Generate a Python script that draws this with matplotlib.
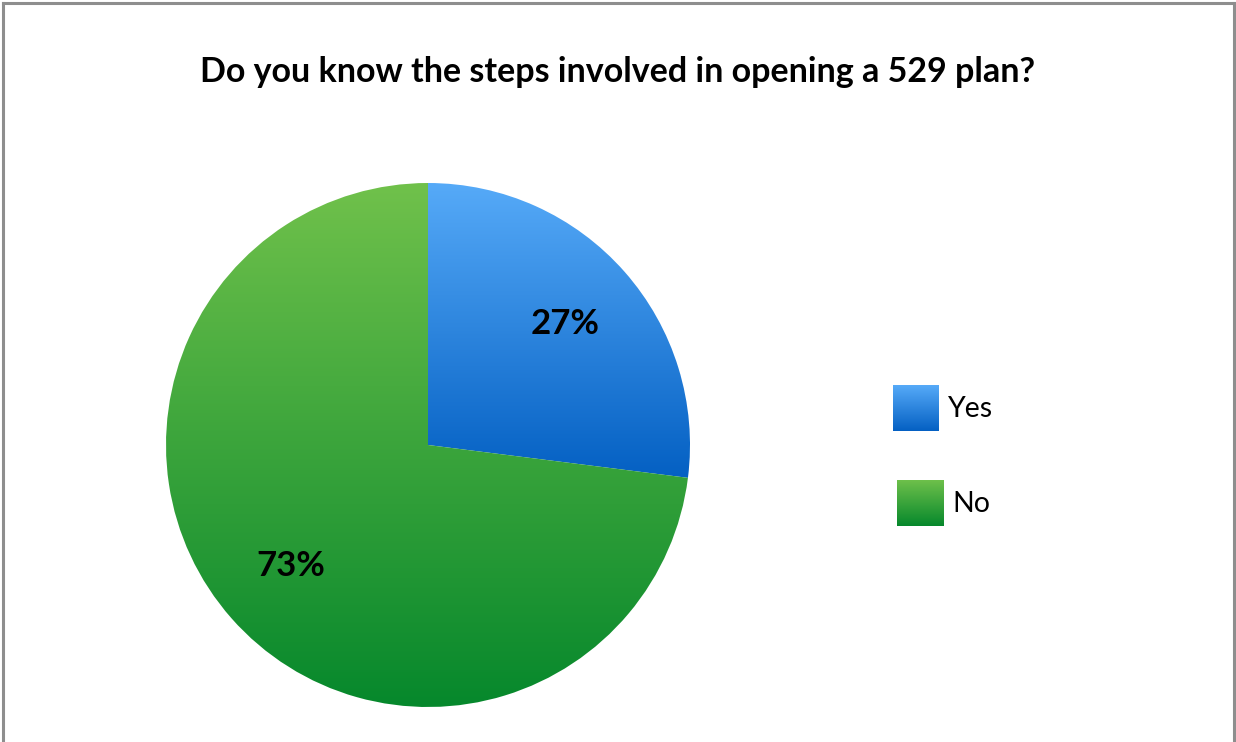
import numpy as np
import matplotlib
matplotlib.use("Agg")
import matplotlib.pyplot as plt
from matplotlib.colors import LinearSegmentedColormap
from matplotlib.lines import Line2D

plt.rcParams['font.family'] = ['Lato', 'DejaVu Sans']

# ── Data ──────────────────────────────────────────────────────────────────────
title = "Do you know the steps involved in opening a 529 plan?"
labels = ["Yes", "No"]
values = [27, 73]
pct_labels = ["27%", "73%"]
top_colors = ["#56aaf8", "#70c14b"]
bottom_colors = ["#0460c3", "#06882c"]

W, H = 1236, 742
fig = plt.figure(figsize=(W / 100, H / 100), dpi=100)

# ── Frame (grey border, bottom cut off) ──────────────────────────────────────
for xs, ys in [([3, 3], [742, 3]), ([3, 1234], [3, 3]), ([1234, 1234], [3, 742])]:
    fig.add_artist(Line2D([x / W for x in xs], [1 - y / H for y in ys],
                          color="#8e8e8e", lw=2.2, transform=fig.transFigure))

fig.text(0.5, 1 - 72 / H, title, ha="center", va="center",
         fontsize=24.5, fontweight="bold", color="black")

# ── Pie ───────────────────────────────────────────────────────────────────────
cx, cy, r = 428, 445, 262
ax = fig.add_axes([(cx - r) / W, (H - cy - r) / H, 2 * r / W, 2 * r / H])
wedges, _ = ax.pie(values, startangle=90, counterclock=False, radius=1,
                   center=(0, 0), wedgeprops=dict(linewidth=0))

def gradient_cmap(c_top, c_bot):
    return LinearSegmentedColormap.from_list("g", [c_bot, c_top])

grad = np.linspace(0, 1, 256).reshape(-1, 1)
for w, ct, cb in zip(wedges, top_colors, bottom_colors):
    ext = w.get_patch_transform().transform_path(w.get_path()).get_extents()
    w.set_facecolor("none")
    im = ax.imshow(grad, cmap=gradient_cmap(ct, cb), origin="lower",
                   extent=[-1, 1, ext.y0, ext.y1], aspect="auto", zorder=1)
    im.set_clip_path(w)

# percentage labels
angles = np.cumsum([0] + values)
for i, p in enumerate(pct_labels):
    mid = 90 - (angles[i] + angles[i + 1]) / 2 * 3.6
    rr = 0.70
    ax.text(rr * np.cos(np.radians(mid)), rr * np.sin(np.radians(mid)), p,
            ha="center", va="center", fontsize=25, fontweight="bold", zorder=3)
ax.set_xlim(-1, 1); ax.set_ylim(-1, 1)
ax.set_aspect("equal"); ax.axis("off")

# ── Legend ────────────────────────────────────────────────────────────────────
sw = 46
leg_pos = [(893, 385), (897, 480)]
for (lx, ly), lab, ct, cb in zip(leg_pos, labels, top_colors, bottom_colors):
    lax = fig.add_axes([lx / W, (H - ly - sw) / H, sw / W, sw / H])
    lax.imshow(grad, cmap=gradient_cmap(ct, cb), origin="lower",
               extent=[0, 1, 0, 1], aspect="auto")
    lax.axis("off")
    fig.text((lx + sw + 9) / W, 1 - (ly + sw / 2 + 1) / H, lab,
             ha="left", va="center", fontsize=20.5, color="black")

fig.savefig("out.png", dpi=100)
